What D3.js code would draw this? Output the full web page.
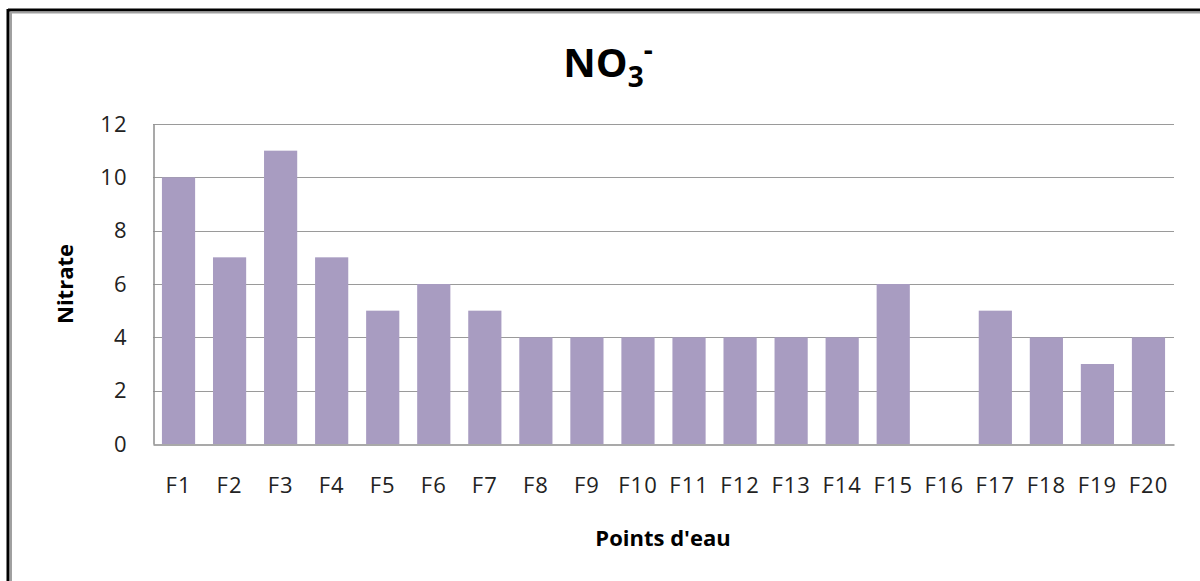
<!DOCTYPE html>
<html>
<head>
<meta charset="utf-8">
<script src="https://cdn.jsdelivr.net/npm/d3@7"></script>
<style>
  body { margin: 0; background: #fff; }
  svg { display: block; }
</style>
</head>
<body>
<div class="chart"></div>
<script>
// points d'eau and their nitrate values
var categories = ["F1", "F2", "F3", "F4", "F5", "F6", "F7", "F8", "F9", "F10",
                  "F11", "F12", "F13", "F14", "F15", "F16", "F17", "F18", "F19", "F20"];
var nitrate = [10, 7, 11, 7, 5, 6, 5, 4, 4, 4, 4, 4, 4, 4, 6, 0, 5, 4, 3, 4];
var yTicks = [0, 2, 4, 6, 8, 10, 12];

var width = 1200;
var height = 581;
var margin = {top: 124, right: 26, bottom: 137, left: 153};
var font = "'Open Sans', 'Noto Sans', sans-serif";

var svg = d3.select('.chart')
    .append('svg')
    .attr('width', width)
    .attr('height', height);

// outer frame like the Excel chart border
svg.append('line').attr('x1', 8).attr('x2', width).attr('y1', 10).attr('y2', 10)
    .attr('stroke', '#000').attr('stroke-width', 3);
svg.append('line').attr('x1', 8).attr('x2', 8).attr('y1', 9).attr('y2', height)
    .attr('stroke', '#000').attr('stroke-width', 3);
svg.append('line').attr('x1', 11).attr('x2', width).attr('y1', 12.5).attr('y2', 12.5)
    .attr('stroke', '#a0a0a0').attr('stroke-width', 2);
svg.append('line').attr('x1', 11).attr('x2', 11).attr('y1', 12).attr('y2', height)
    .attr('stroke', '#a0a0a0').attr('stroke-width', 2);

var x = d3.scaleBand()
    .domain(categories)
    .range([margin.left, width - margin.right])
    .paddingInner(0.35)
    .paddingOuter(0.175);

var y = d3.scaleLinear()
    .domain([0, 12])
    .range([height - margin.bottom, margin.top]);

// gridlines
svg.append('g')
    .selectAll('line')
    .data(yTicks.filter(function(d) { return d > 0; }))
    .enter()
    .append('line')
    .attr('x1', margin.left)
    .attr('x2', width - margin.right)
    .attr('y1', function(d) { return Math.round(y(d)) + 0.5; })
    .attr('y2', function(d) { return Math.round(y(d)) + 0.5; })
    .attr('stroke', '#9a9a9a')
    .attr('stroke-width', 1);

// bars
svg.append('g')
    .selectAll('rect')
    .data(nitrate)
    .enter()
    .append('rect')
    .attr('x', function(d, i) { return x(categories[i]); })
    .attr('y', function(d) { return y(d); })
    .attr('width', x.bandwidth())
    .attr('height', function(d) { return y(0) - y(d); })
    .attr('fill', '#a89cc1');

// y axis
var yAxis = svg.append('g')
    .attr('transform', 'translate(' + (margin.left + 0.5) + ',0)')
    .call(d3.axisLeft(y).tickValues(yTicks).tickSize(0).tickPadding(26));
yAxis.select('.domain').attr('stroke', '#8c8c8c').attr('stroke-width', 1.5);
yAxis.selectAll('text')
    .attr('font-family', font)
    .attr('font-size', '22px')
    .attr('letter-spacing', '1px')
    .attr('fill', '#222');

// x axis
var xAxis = svg.append('g')
    .attr('transform', 'translate(0,' + (Math.round(y(0)) + 0.5) + ')')
    .call(d3.axisBottom(x).tickSize(0).tickPadding(33));
xAxis.select('.domain').attr('stroke', '#8c8c8c').attr('stroke-width', 1.5);
xAxis.selectAll('text')
    .attr('font-family', font)
    .attr('font-size', '22px')
    .attr('letter-spacing', '1px')
    .attr('fill', '#222');

// title NO3-
var title = svg.append('text')
    .attr('x', 608)
    .attr('y', 77)
    .attr('text-anchor', 'middle')
    .attr('font-family', font)
    .attr('font-weight', 'bold')
    .attr('font-size', '40px')
    .attr('fill', '#000');
title.append('tspan').text('NO');
title.append('tspan').attr('font-size', '28px').attr('dy', 10).text('3');
title.append('tspan').attr('font-size', '28px').attr('dy', -27).text('-');

// axis titles
svg.append('text')
    .attr('transform', 'translate(73,' + ((margin.top + height - margin.bottom) / 2) + ') rotate(-90)')
    .attr('text-anchor', 'middle')
    .attr('font-family', font)
    .attr('font-weight', 'bold')
    .attr('font-size', '22px')
    .attr('fill', '#000')
    .text('Nitrate');

svg.append('text')
    .attr('x', 663)
    .attr('y', 546)
    .attr('text-anchor', 'middle')
    .attr('font-family', font)
    .attr('font-weight', 'bold')
    .attr('font-size', '22px')
    .attr('fill', '#000')
    .text("Points d'eau");
</script>
</body>
</html>
